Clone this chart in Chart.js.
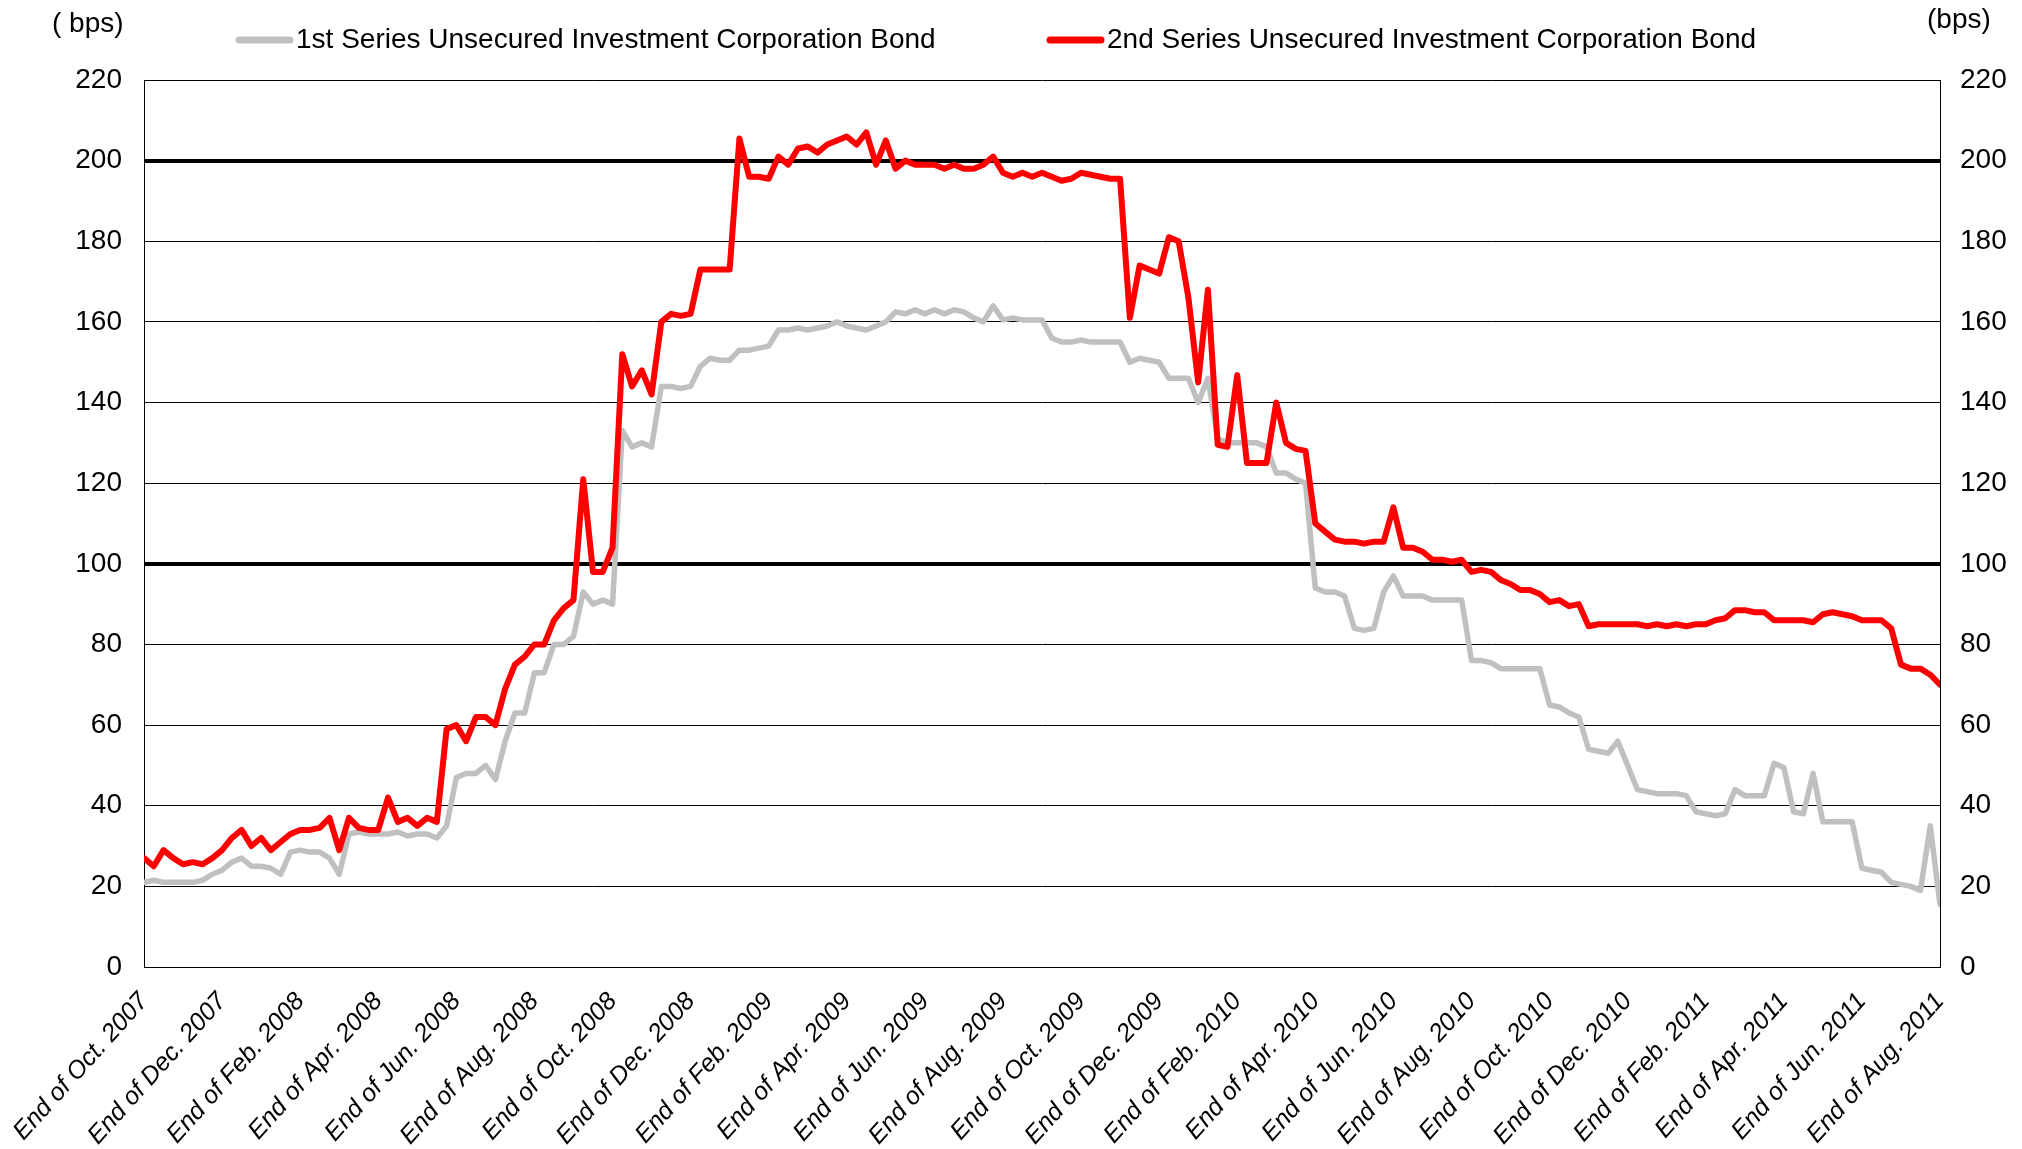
<!DOCTYPE html>
<html>
<head>
<meta charset="utf-8">
<script src="https://cdn.jsdelivr.net/npm/chart.js@4.4.0/dist/chart.umd.min.js"></script>
<style>
  html, body { margin: 0; padding: 0; background: #fff; }
</style>
</head>
<body>
<canvas id="myChart" width="2022" height="1149"></canvas>
<script>
const canvas = document.getElementById('myChart');
const ctx = canvas.getContext('2d');

// one value per week, 4 per month, from end of Oct. 2007 to end of Aug. 2011
const samplesPerMonth = 4;

const tickLabels = [
    'End of Oct. 2007', 'End of Dec. 2007', 'End of Feb. 2008', 'End of Apr. 2008',
    'End of Jun. 2008', 'End of Aug. 2008', 'End of Oct. 2008', 'End of Dec. 2008',
    'End of Feb. 2009', 'End of Apr. 2009', 'End of Jun. 2009', 'End of Aug. 2009',
    'End of Oct. 2009', 'End of Dec. 2009', 'End of Feb. 2010', 'End of Apr. 2010',
    'End of Jun. 2010', 'End of Aug. 2010', 'End of Oct. 2010', 'End of Dec. 2010',
    'End of Feb. 2011', 'End of Apr. 2011', 'End of Jun. 2011', 'End of Aug. 2011'
];

const seriesNames = [
    '1st Series Unsecured Investment Corporation Bond',
    '2nd Series Unsecured Investment Corporation Bond'
];

// 1st series (bps)
const firstSeries = [
    21, 21.5, 21, 21, 21, 21, 21.5, 23,
    24, 26, 27, 25, 25, 24.5, 23, 28.5,
    29, 28.5, 28.5, 27, 23, 33, 33.5, 33,
    33, 33, 33.5, 32.5, 33, 33, 32, 35,
    47, 48, 48, 50, 46.5, 56, 63, 63,
    73, 73, 80, 80, 82, 93, 90, 91,
    90, 133, 129, 130, 129, 144, 144, 143.5,
    144, 149, 151, 150.5, 150.5, 153, 153, 153.5,
    154, 158, 158, 158.5, 158, 158.5, 159, 160,
    159, 158.5, 158, 159, 160, 162.5, 162, 163,
    162, 163, 162, 163, 162.5, 161, 160, 164,
    160.5, 161, 160.5, 160.5, 160.5, 156, 155, 155,
    155.5, 155, 155, 155, 155, 150, 151, 150.5,
    150, 146, 146, 146, 140, 146, 131, 130,
    130, 130, 130, 129, 122.5, 122.5, 121, 120,
    94, 93, 93, 92, 84, 83.5, 84, 93,
    97, 92, 92, 92, 91, 91, 91, 91,
    76, 76, 75.5, 74, 74, 74, 74, 74,
    65, 64.5, 63, 62, 54, 53.5, 53, 56,
    50, 44, 43.5, 43, 43, 43, 42.5, 38.5,
    38, 37.5, 38, 44, 42.5, 42.5, 42.5, 50.5,
    49.5, 38.5, 38, 48, 36, 36, 36, 36,
    24.5, 24, 23.5, 21, 20.5, 20, 19, 35,
    15.5
];

// 2nd series (bps)
const secondSeries = [
    27, 25, 29, 27, 25.5, 26, 25.5, 27,
    29, 32, 34, 30, 32, 29, 31, 33,
    34, 34, 34.5, 37, 29, 37, 34.5, 34,
    34, 42, 36, 37, 35, 37, 36, 59,
    60, 56, 62, 62, 60, 69, 75, 77,
    80, 80, 86, 89, 91, 121, 98, 98,
    104, 152, 144, 148, 142, 160, 162, 161.5,
    162, 173, 173, 173, 173, 205.5, 196, 196,
    195.5, 201, 199, 203, 203.5, 202, 204, 205,
    206, 204, 207, 199, 205, 198, 200, 199,
    199, 199, 198, 199, 198, 198, 199, 201,
    197, 196, 197, 196, 197, 196, 195, 195.5,
    197, 196.5, 196, 195.5, 195.5, 161, 174, 173,
    172, 181, 180, 166, 145, 168, 129.5, 129,
    146.8, 125, 125, 125, 140, 130, 128.5, 128,
    110, 108, 106, 105.5, 105.5, 105, 105.5, 105.5,
    114, 104, 104, 103, 101, 101, 100.5, 101,
    98, 98.5, 98, 96, 95, 93.5, 93.5, 92.5,
    90.5, 91, 89.5, 90, 84.5, 85, 85, 85,
    85, 85, 84.5, 85, 84.5, 85, 84.5, 85,
    85, 86, 86.5, 88.5, 88.5, 88, 88, 86,
    86, 86, 86, 85.5, 87.5, 88, 87.5, 87,
    86, 86, 86, 84, 75, 74, 74, 72.5,
    70
];

const seriesColors = ['rgb(192, 192, 192)', 'rgb(255, 0, 0)'];

const FONT = '"Liberation Sans", Arial, sans-serif';

function toPoints(values) {
    return values.map((v, i) => ({ x: i / samplesPerMonth, y: v }));
}

// legend and unit labels drawn above the plot
const topText = {
    id: 'topText',
    afterDraw(chart) {
        const c = chart.ctx;
        c.save();
        c.font = '28px ' + FONT;
        c.fillStyle = '#000';
        c.textBaseline = 'middle';
        c.textAlign = 'left';
        c.fillText('( bps)', 52, 24);
        c.fillText('(bps)', 1927, 20);

        const starts = [236, 1047];
        seriesNames.forEach((name, k) => {
            const x = starts[k];
            c.strokeStyle = seriesColors[k];
            c.lineWidth = 7;
            c.lineCap = 'round';
            c.beginPath();
            c.moveTo(x + 3, 40);
            c.lineTo(x + 54, 40);
            c.stroke();
            c.fillText(name, x + 60, 40);
        });
        c.restore();
    }
};

const data = {
    datasets: [{
        label: seriesNames[0],
        data: toPoints(firstSeries),
        borderColor: seriesColors[0],
        backgroundColor: seriesColors[0],
        borderWidth: 5.5,
        pointRadius: 0,
        borderJoinStyle: 'round',
        borderCapStyle: 'round',
        order: 1
    }, {
        label: seriesNames[1],
        data: toPoints(secondSeries),
        borderColor: seriesColors[1],
        backgroundColor: seriesColors[1],
        borderWidth: 6,
        pointRadius: 0,
        borderJoinStyle: 'round',
        borderCapStyle: 'round',
        order: 0
    }]
};

var myChart = new Chart(ctx, {
    type: 'line',
    data: data,
    plugins: [topText],
    options: {
        responsive: false,
        animation: false,
        layout: { padding: { top: 80, left: 0, right: 0, bottom: 0 } },
        plugins: {
            legend: { display: false },
            tooltip: { enabled: false }
        },
        scales: {
            x: {
                type: 'linear',
                min: 0,
                max: 46,
                afterFit(scale) {
                    scale.height = 182;
                    scale.paddingLeft = 0;
                    scale.paddingRight = 0;
                },
                grid: { display: false, drawTicks: false },
                border: { display: true, color: '#000', width: 1 },
                ticks: {
                    stepSize: 2,
                    autoSkip: false,
                    minRotation: 48,
                    maxRotation: 48,
                    padding: 20,
                    color: '#000',
                    font: { family: FONT, size: 25, style: 'italic' },
                    callback: (v) => tickLabels[v / 2]
                }
            },
            y: {
                position: 'left',
                min: 0,
                max: 220,
                afterFit(scale) { scale.width = 144; },
                grid: {
                    color: '#000',
                    lineWidth: (c) => (c.tick && (c.tick.value === 100 || c.tick.value === 200)) ? 4 : 1,
                    drawTicks: false
                },
                border: { display: true, color: '#000', width: 1 },
                ticks: {
                    stepSize: 20,
                    padding: 22,
                    color: '#000',
                    font: { family: FONT, size: 28 }
                }
            },
            y2: {
                position: 'right',
                min: 0,
                max: 220,
                afterFit(scale) { scale.width = 82; },
                grid: { drawOnChartArea: false, drawTicks: false },
                border: { display: true, color: '#000', width: 1 },
                ticks: {
                    stepSize: 20,
                    padding: 20,
                    color: '#000',
                    font: { family: FONT, size: 28 }
                }
            }
        }
    }
});
</script>
</body>
</html>
